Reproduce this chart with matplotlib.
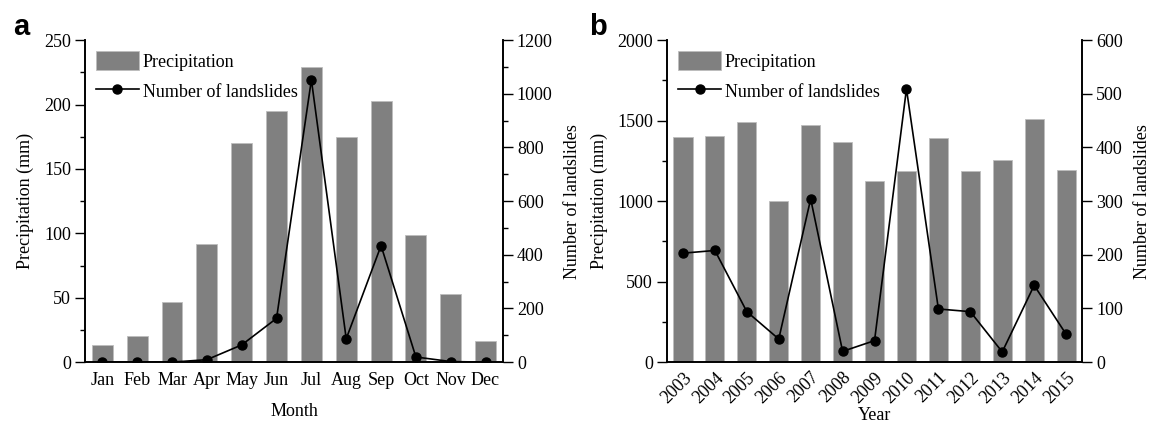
import matplotlib.pyplot as plt
import numpy as np
from matplotlib.ticker import MultipleLocator

plt.rcParams['font.family'] = ['Liberation Serif', 'DejaVu Serif']
plt.rcParams['font.size'] = 13

# panel a: monthly
months = ["Jan", "Feb", "Mar", "Apr", "May", "Jun", "Jul", "Aug", "Sep", "Oct", "Nov", "Dec"]
month_precip = [13, 20, 47, 92, 170, 195, 229, 175, 203, 99, 53, 16]
month_slides = [0, 0, 0, 9, 64, 163, 1052, 87, 434, 19, 2, 0]

# panel b: yearly
years = ["2003", "2004", "2005", "2006", "2007", "2008", "2009",
         "2010", "2011", "2012", "2013", "2014", "2015"]
year_precip = [1400, 1404, 1493, 1003, 1470, 1366, 1128, 1190, 1394, 1185, 1255, 1510, 1194]
year_slides = [203, 208, 94, 43, 304, 20, 40, 509, 99, 94, 19, 143, 52]

BAR = '#808080'

fig = plt.figure(figsize=(11.51, 4.25), dpi=100)


def panel(rect, cats, precip, slides, pmax, pmajor, pminor, smax, smajor, sminor,
          xlabel, letter, letter_x, rotate=False):
    ax = fig.add_axes(rect)
    x = np.arange(len(cats))
    bars = ax.bar(x, precip, width=0.6, color=BAR, edgecolor='#bdbdbd', linewidth=0.6,
                  label='Precipitation', zorder=2)
    ax.set_xlim(-0.5, len(cats) - 0.5)
    ax.set_ylim(0, pmax)
    ax.yaxis.set_major_locator(MultipleLocator(pmajor))
    if pminor:
        ax.yaxis.set_minor_locator(MultipleLocator(pminor))
    ax.set_xticks(x)
    if rotate:
        ax.set_xticklabels(cats, rotation=45, ha='right', rotation_mode='anchor')
        ax.tick_params(axis='x', length=0, pad=5)
    else:
        ax.set_xticklabels(cats)
        ax.tick_params(axis='x', length=0, pad=7)
    ax.tick_params(axis='y', which='major', direction='out', length=7, width=1, pad=3)
    ax.tick_params(axis='y', which='minor', direction='out', length=3.6, width=1)
    ax.set_ylabel('Precipitation (mm)', labelpad=7)
    ax.set_xlabel(xlabel, labelpad=10 if not rotate else 0)
    ax.spines['top'].set_visible(False)
    for s in ax.spines.values():
        s.set_linewidth(1.2)

    ax2 = ax.twinx()
    line, = ax2.plot(x, slides, color='black', linewidth=1.2, marker='o',
                     markersize=6.5, label='Number of landslides', zorder=3)
    ax2.set_ylim(0, smax)
    ax2.yaxis.set_major_locator(MultipleLocator(smajor))
    if sminor:
        ax2.yaxis.set_minor_locator(MultipleLocator(sminor))
    ax2.tick_params(axis='y', which='major', direction='out', length=7, width=1, pad=3)
    ax2.tick_params(axis='y', which='minor', direction='out', length=3.6, width=1)
    ax2.set_ylabel('Number of landslides', labelpad=8)
    ax2.spines['top'].set_visible(False)
    for s in ax2.spines.values():
        s.set_linewidth(1.2)

    ax2.legend([bars, line], ['Precipitation', 'Number of landslides'],
               loc='upper left', bbox_to_anchor=(0.0, 1.0), frameon=False,
               handlelength=2.4, handleheight=1.25, handletextpad=0.2,
               labelspacing=0.6, borderaxespad=0.2, fontsize=13)

    fig.text(letter_x, 0.918, letter, fontsize=21, fontweight='bold',
             family='Liberation Sans', ha='left', va='baseline')
    return ax, ax2


panel([0.0738, 0.148, 0.3632, 0.7576], months, month_precip, month_slides,
      250, 50, 25, 1200, 200, 100, 'Month', 'a', 0.011)
panel([0.5795, 0.148, 0.3606, 0.7576], years, year_precip, year_slides,
      2000, 500, 250, 600, 100, None, 'Year', 'b', 0.512, rotate=True)

fig.savefig('out.png', dpi=100)
